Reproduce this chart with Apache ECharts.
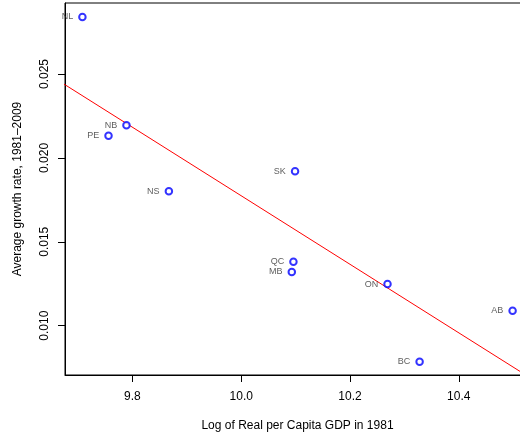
<!DOCTYPE html>
<html>
<head>
<meta charset="utf-8">
<script src="https://cdn.jsdelivr.net/npm/echarts@6/dist/echarts.min.js"></script>
<style>
  html, body { margin: 0; padding: 0; background: #fff; }
  #chart { width: 520px; height: 436px; }
</style>
</head>
<body>
<div id="chart"></div>
<script>
const provinces = ["NL", "NB", "PE", "NS", "SK", "QC", "MB", "ON", "AB", "BC"];
const gdpLog = [9.708, 9.789, 9.756, 9.867, 10.099, 10.096, 10.093, 10.269, 10.499, 10.328];
const growth = [0.0284, 0.02194, 0.02132, 0.01801, 0.0192, 0.01381, 0.0132, 0.01248, 0.01089, 0.00785];
// fitted line, read at two x positions
const fitX = [9.6, 10.6];
const fitY = [0.02591, 0.00549];
const xTicks = [9.8, 10.0, 10.2, 10.4];
const yTicks = [0.010, 0.015, 0.020, 0.025];

const chart = echarts.init(document.getElementById("chart"));
const font = "Liberation Sans, Arial, sans-serif";

chart.setOption({
  animation: false,
  grid: {
    left: 65, top: 3, right: -10, bottom: 61,
    outerBoundsMode: "none",
    containLabel: false,
    show: true, borderColor: "#000", borderWidth: 1
  },
  xAxis: {
    type: "value",
    min: 9.676,
    max: 10.531,
    name: "Log of Real per Capita GDP in 1981",
    nameLocation: "middle",
    nameGap: 45,
    nameTextStyle: { fontFamily: font, fontSize: 12, color: "#000" },
    splitLine: { show: false },
    axisLine: { lineStyle: { color: "#000", width: 1 } },
    axisTick: { customValues: xTicks, length: 7, lineStyle: { color: "#000" } },
    axisLabel: {
      customValues: xTicks,
      margin: 16,
      fontFamily: font, fontSize: 12, color: "#000",
      formatter: v => v.toFixed(1)
    }
  },
  yAxis: {
    type: "value",
    min: 0.00706,
    max: 0.02923,
    name: "Average growth rate, 1981\u20132009",
    nameLocation: "middle",
    nameGap: 41,
    nameRotate: 90,
    nameTextStyle: { fontFamily: font, fontSize: 12, color: "#000" },
    splitLine: { show: false },
    axisLine: { lineStyle: { color: "#000", width: 1 } },
    axisTick: { customValues: yTicks, length: 7, lineStyle: { color: "#000" } },
    axisLabel: {
      customValues: yTicks,
      rotate: 90,
      margin: 14,
      fontFamily: font, fontSize: 12, color: "#000",
      formatter: v => v.toFixed(3)
    }
  },
  series: [
    {
      type: "line",
      data: fitX.map((x, i) => [x, fitY[i]]),
      symbol: "none",
      lineStyle: { color: "#ff0000", width: 1 },
      clip: true,
      z: 1
    },
    {
      type: "scatter",
      data: provinces.map((p, i) => ({ name: p, value: [gdpLog[i], growth[i]] })),
      symbol: "emptyCircle",
      symbolSize: 6.5,
      itemStyle: { color: "#0000ff", borderColor: "#0000ff", borderWidth: 0.8 },
      emphasis: { disabled: true },
      label: {
        show: true,
        position: "left",
        distance: 5,
        formatter: p => p.name,
        fontFamily: font, fontSize: 9, color: "#333"
      },
      z: 2
    }
  ]
});
</script>
</body>
</html>
